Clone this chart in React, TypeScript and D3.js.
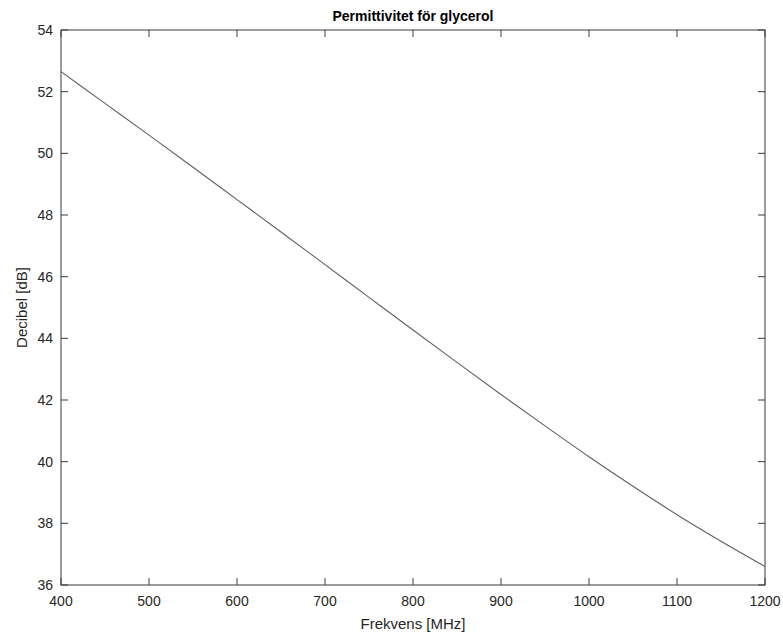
import React from "react";
import * as d3 from "d3";

const freqs = [400, 450, 500, 550, 600, 650, 700, 750, 800, 850, 900, 950, 1000, 1050, 1100, 1150, 1200];
const decibels = [52.65, 51.62, 50.59, 49.55, 48.5, 47.45, 46.39, 45.33, 44.27, 43.22, 42.18, 41.16, 40.16, 39.2, 38.28, 37.42, 36.6];
const xTicks = [400, 500, 600, 700, 800, 900, 1000, 1100, 1200];
const yTicks = [36, 38, 40, 42, 44, 46, 48, 50, 52, 54];

const W = 783, H = 637;
const M = { left: 61, right: 765, top: 30, bottom: 585 };
const FONT = "'Liberation Sans', Arial, Helvetica, sans-serif";

export default function App() {
  const x = d3.scaleLinear().domain([400, 1200]).range([M.left, M.right]);
  const y = d3.scaleLinear().domain([36, 54]).range([M.bottom, M.top]);
  const line = d3.line<number>().x((_, i) => x(freqs[i])).y((d) => y(d)).curve(d3.curveMonotoneX);
  const axisColor = "#3a3a3a";
  const tl = 7;
  return (
    <svg width={W} height={H} style={{ position: "absolute", left: 0, top: 0, background: "#fff" }}>
      <rect x={0} y={0} width={W} height={H} fill="#fff" />
      <path d={line(decibels) || ""} fill="none" stroke="#606060" strokeWidth={1.1} />
      <rect x={M.left} y={M.top} width={M.right - M.left} height={M.bottom - M.top} fill="none" stroke={axisColor} strokeWidth={1} />
      {xTicks.map((t) => (
        <g key={"x" + t}>
          <line x1={x(t)} x2={x(t)} y1={M.bottom} y2={M.bottom - tl} stroke={axisColor} />
          <line x1={x(t)} x2={x(t)} y1={M.top} y2={M.top + tl} stroke={axisColor} />
          <text x={x(t)} y={M.bottom + 21} textAnchor="middle" fontSize={14} fontFamily={FONT} fill="#262626">{t}</text>
        </g>
      ))}
      {yTicks.map((t) => (
        <g key={"y" + t}>
          <line x1={M.left} x2={M.left + tl} y1={y(t)} y2={y(t)} stroke={axisColor} />
          <line x1={M.right} x2={M.right - tl} y1={y(t)} y2={y(t)} stroke={axisColor} />
          <text x={M.left - 8} y={y(t) + 5} textAnchor="end" fontSize={14} fontFamily={FONT} fill="#262626">{t}</text>
        </g>
      ))}
      <text x={(M.left + M.right) / 2} y={21} textAnchor="middle" fontSize={14} fontWeight="bold" fontFamily={FONT} fill="#000">Permittivitet för glycerol</text>
      <text x={(M.left + M.right) / 2} y={629} textAnchor="middle" fontSize={15} fontFamily={FONT} fill="#262626">Frekvens [MHz]</text>
      <text transform={`translate(27, ${(M.top + M.bottom) / 2}) rotate(-90)`} textAnchor="middle" fontSize={15} fontFamily={FONT} fill="#262626">Decibel [dB]</text>
    </svg>
  );
}
